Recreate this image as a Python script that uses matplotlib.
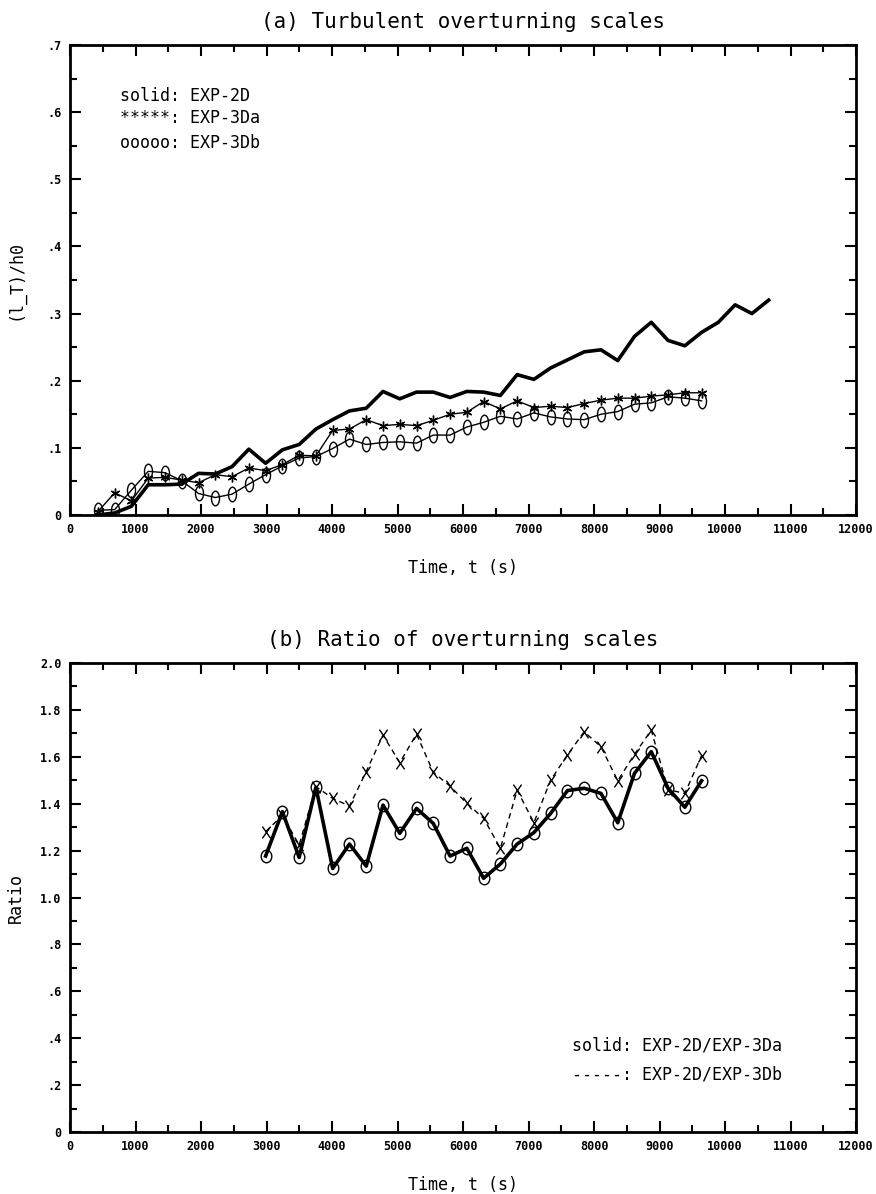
import matplotlib
matplotlib.use("Agg")
import matplotlib.pyplot as plt
from matplotlib.path import Path
from matplotlib.ticker import MultipleLocator, FuncFormatter

# sampling times (s)
times = [425, 681, 937, 1193, 1449, 1705, 1961, 2217, 2473, 2729,
         2985, 3241, 3497, 3753, 4009, 4265, 4521, 4777, 5033, 5289,
         5545, 5801, 6057, 6313, 6569, 6825, 7081, 7337, 7593, 7849,
         8105, 8361, 8617, 8873, 9129, 9385, 9641, 9897, 10153, 10409,
         10665]

# (l_T)/h0 for the three runs
exp_2d = [0.000, 0.003, 0.013, 0.045, 0.045, 0.046, 0.062, 0.061, 0.072, 0.098,
          0.077, 0.097, 0.105, 0.128, 0.142, 0.155, 0.159, 0.184, 0.173, 0.183,
          0.183, 0.175, 0.184, 0.183, 0.178, 0.209, 0.202, 0.219, 0.231, 0.243,
          0.246, 0.230, 0.266, 0.287, 0.260, 0.252, 0.272, 0.287, 0.313, 0.300,
          0.320]
exp_3da = [0.005, 0.033, 0.021, 0.055, 0.056, 0.052, 0.048, 0.060, 0.057, 0.070,
           0.066, 0.075, 0.089, 0.088, 0.126, 0.128, 0.142, 0.133, 0.135, 0.133,
           0.141, 0.150, 0.153, 0.169, 0.158, 0.170, 0.160, 0.162, 0.160, 0.166,
           0.171, 0.174, 0.174, 0.177, 0.179, 0.182, 0.182]
exp_3db = [0.007, 0.008, 0.037, 0.065, 0.063, 0.051, 0.032, 0.026, 0.031, 0.046,
           0.060, 0.073, 0.085, 0.087, 0.099, 0.113, 0.105, 0.108, 0.109, 0.107,
           0.119, 0.119, 0.131, 0.138, 0.147, 0.143, 0.152, 0.146, 0.143, 0.142,
           0.150, 0.154, 0.165, 0.167, 0.176, 0.174, 0.170]

# ratios, from t = 3000 s on
ratio_times = times[10:37]
ratio_2d_3da = [1.177, 1.366, 1.171, 1.470, 1.124, 1.228, 1.134, 1.394, 1.274,
                1.380, 1.316, 1.177, 1.210, 1.082, 1.143, 1.228, 1.277, 1.359,
                1.456, 1.466, 1.444, 1.319, 1.530, 1.622, 1.466, 1.385, 1.498]
ratio_2d_3db = [1.281, 1.350, 1.224, 1.473, 1.423, 1.390, 1.537, 1.693, 1.575,
                1.697, 1.534, 1.475, 1.402, 1.338, 1.210, 1.458, 1.319, 1.501,
                1.608, 1.707, 1.643, 1.498, 1.611, 1.714, 1.460, 1.444, 1.605]

MONO = "DejaVu Sans Mono"
plt.rcParams["font.family"] = MONO


def ellipse(sx, sy):
    c = Path.unit_circle()
    return Path(c.vertices * [sx, sy], c.codes)


def cross(sx, sy):
    return Path([(-sx, -sy), (sx, sy), (-sx, sy), (sx, -sy)],
                [Path.MOVETO, Path.LINETO, Path.MOVETO, Path.LINETO])


def fmt_y(v, pos):
    if abs(v) < 1e-9:
        return "0"
    s = "%.1f" % v
    return s[1:] if s.startswith("0") else s


def style_axes(ax, ymax, ymaj, ymin):
    ax.set_xlim(0, 12000)
    ax.set_ylim(0, ymax)
    ax.xaxis.set_major_locator(MultipleLocator(1000))
    ax.xaxis.set_minor_locator(MultipleLocator(500))
    ax.yaxis.set_major_locator(MultipleLocator(ymaj))
    ax.yaxis.set_minor_locator(MultipleLocator(ymin))
    ax.yaxis.set_major_formatter(FuncFormatter(fmt_y))
    ax.tick_params(which="both", direction="in", top=True, right=True,
                   width=1.5, labelsize=8.5)
    ax.tick_params(which="major", length=8, pad=6)
    ax.tick_params(which="minor", length=5)
    for lab in ax.get_xticklabels() + ax.get_yticklabels():
        lab.set_fontweight("bold")
    for sp in ax.spines.values():
        sp.set_linewidth(2)
    ax.set_xlabel("Time, t (s)", fontsize=12, labelpad=16)


fig = plt.figure(figsize=(8.76, 11.94), dpi=100)
ax1 = fig.add_axes([0.080, 0.5687, 0.8973, 0.3936])
ax2 = fig.add_axes([0.080, 0.0519, 0.8973, 0.3928])

# (a) overturning scales
ax1.plot(times, exp_2d, color="black", lw=2.6)
ax1.plot(times[:len(exp_3da)], exp_3da, color="black", lw=1.0,
         marker=(6, 2, 0), ms=7, mew=1.0)
ax1.plot(times[:len(exp_3db)], exp_3db, color="black", lw=1.0,
         marker=ellipse(0.55, 1.0), ms=10.5, mfc="none", mew=1.0)
style_axes(ax1, 0.7, 0.1, 0.05)
ax1.set_ylabel("(l_T)/h0", fontsize=12)
ax1.yaxis.set_label_coords(-0.058, 0.5)
ax1.set_title("(a) Turbulent overturning scales", fontsize=15, pad=12)

leg_a = ["solid: EXP-2D", "*****: EXP-3Da", "ooooo: EXP-3Db"]
for txt, yy in zip(leg_a, [0.891, 0.845, 0.791]):
    ax1.text(0.064, yy, txt, transform=ax1.transAxes, fontsize=12, va="center")

# (b) ratios
ax2.plot(ratio_times, ratio_2d_3db, color="black", lw=1.0, ls=(0, (4, 3)),
         marker=cross(0.7, 1.0), ms=8.5, mew=1.0)
ax2.plot(ratio_times, ratio_2d_3da, color="black", lw=2.6,
         marker=ellipse(0.85, 1.0), ms=9, mfc="none", mew=1.0)
style_axes(ax2, 2.0, 0.2, 0.1)
ax2.set_ylabel("Ratio", fontsize=12)
ax2.yaxis.set_label_coords(-0.058, 0.5)
ax2.set_title("(b) Ratio of overturning scales", fontsize=15, pad=12)

leg_b = ["solid: EXP-2D/EXP-3Da", "-----: EXP-2D/EXP-3Db"]
for txt, yy in zip(leg_b, [0.1855, 0.1237]):
    ax2.text(0.639, yy, txt, transform=ax2.transAxes, fontsize=12, va="center")

fig.savefig("out.png", dpi=100)
